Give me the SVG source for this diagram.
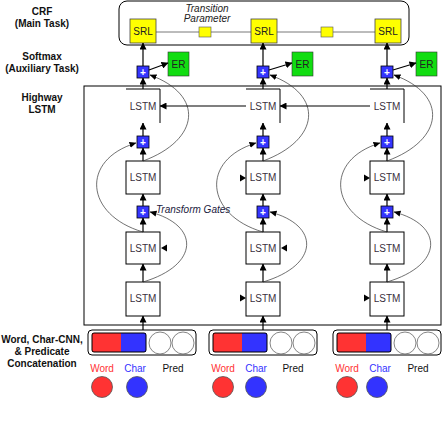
<svg xmlns="http://www.w3.org/2000/svg" width="444" height="430" viewBox="0 0 444 430">
<defs>
<marker id="ah" markerUnits="userSpaceOnUse" markerWidth="7" markerHeight="7" refX="6.5" refY="3.5" orient="auto"><path d="M0,0 L7,3.5 L0,7 z" fill="#000"/></marker>
<marker id="ahs" markerUnits="userSpaceOnUse" markerWidth="7" markerHeight="7" refX="6.5" refY="3.5" orient="auto"><path d="M0,0.5 L7,3.5 L0,6.5 z" fill="#000"/></marker>
<style>
text{font-family:"Liberation Sans",Arial,sans-serif}
.lbl{font-size:10px;font-weight:bold;text-anchor:middle;fill:#111}
.lstm{fill:#fff;stroke:#000;stroke-width:1}
.open{fill:none;stroke:#000;stroke-width:1}
.lt{font-size:10px;text-anchor:middle;fill:#3a3040}
.plus{fill:#3535ff;stroke:#000;stroke-width:0.8}
.pt{font-size:10px;font-weight:bold;fill:#fff;text-anchor:middle}
.srl{fill:#ffff00;stroke:#444;stroke-width:0.8}
.er{fill:#11dd11;stroke:#333;stroke-width:0.6}
.st{font-size:10px;text-anchor:middle;fill:#222}
.ar{stroke:#000;stroke-width:1.2;fill:none;marker-end:url(#ah)}
.cv{stroke:#333;stroke-width:0.7;fill:none;marker-end:url(#ahs)}
.tri{fill:#000}
.outer{fill:#fff;stroke:#000;stroke-width:1}
.wc{fill:none;stroke:#000;stroke-width:1}
.wcirc{fill:#fff;stroke:#666;stroke-width:0.8}
.rc{fill:#ff3333;stroke:#555;stroke-width:0.8}
.bc{fill:#3333ff;stroke:#555;stroke-width:0.8}
.small{font-size:10px;text-anchor:middle}
</style>
</defs>

<g id="labels">
<text class="lbl" x="42" y="15">CRF</text>
<text class="lbl" x="42" y="27">(Main Task)</text>
<text class="lbl" x="42" y="60">Softmax</text>
<text class="lbl" x="42" y="72">(Auxiliary Task)</text>
<text class="lbl" x="42" y="101">Highway</text>
<text class="lbl" x="42" y="113">LSTM</text>
<text class="lbl" x="42" y="343">Word, Char-CNN,</text>
<text class="lbl" x="42" y="355">&amp; Predicate</text>
<text class="lbl" x="42" y="367">Concatenation</text>
</g>

<g id="crf">
<rect x="119" y="1" width="290" height="44" rx="8" fill="none" stroke="#000" stroke-width="1"/>
<line x1="156" y1="32" x2="375" y2="32" stroke="#555" stroke-width="0.8"/>
<rect x="199" y="27" width="12" height="10" fill="#ffff00" stroke="#555" stroke-width="0.6"/>
<rect x="321" y="27" width="12" height="10" fill="#ffff00" stroke="#555" stroke-width="0.6"/>
<text x="207" y="12" font-size="10" font-style="italic" text-anchor="middle" fill="#222">Transition</text>
<text x="207" y="22" font-size="10" font-style="italic" text-anchor="middle" fill="#222">Parameter</text>
</g>

<g id="highway-box">
<rect x="84" y="86" width="357" height="239" fill="none" stroke="#000" stroke-width="1"/>
</g>

<g id="col1">
<rect class="srl" x="130" y="19" width="26" height="24"/><text class="st" x="143" y="35">SRL</text>
<rect class="plus" x="137" y="66" width="12" height="12"/><text class="pt" x="143" y="75.5">+</text>
<rect class="er" x="168" y="52" width="21" height="24"/><text class="st" x="178.5" y="68">ER</text>
<path class="open" d="M126,89 H160 V123"/><text class="lt" x="143" y="110">LSTM</text>
<rect class="plus" x="137" y="136" width="12" height="12"/><text class="pt" x="143" y="145.5">+</text>
<rect class="lstm" x="126" y="161" width="34" height="33"/><text class="lt" x="143" y="181">LSTM</text>
<rect class="plus" x="137" y="206" width="12" height="12"/><text class="pt" x="143" y="215.5">+</text>
<rect class="lstm" x="126" y="232" width="34" height="32"/><text class="lt" x="143" y="252">LSTM</text>
<rect class="lstm" x="126" y="282" width="34" height="34"/><text class="lt" x="143" y="302">LSTM</text>
</g>

<g id="col2">
<rect class="srl" x="251" y="19" width="26" height="24"/><text class="st" x="264" y="35">SRL</text>
<rect class="plus" x="257" y="66" width="12" height="12"/><text class="pt" x="263" y="75.5">+</text>
<rect class="er" x="292" y="52" width="21" height="24"/><text class="st" x="302.5" y="68">ER</text>
<path class="open" d="M246,89 H280 V123"/><text class="lt" x="263" y="110">LSTM</text>
<rect class="plus" x="257" y="136" width="12" height="12"/><text class="pt" x="263" y="145.5">+</text>
<rect class="lstm" x="246" y="161" width="34" height="33"/><text class="lt" x="263" y="181">LSTM</text>
<rect class="plus" x="257" y="206" width="12" height="12"/><text class="pt" x="263" y="215.5">+</text>
<rect class="lstm" x="246" y="232" width="34" height="32"/><text class="lt" x="263" y="252">LSTM</text>
<rect class="lstm" x="246" y="282" width="34" height="34"/><text class="lt" x="263" y="302">LSTM</text>
</g>

<g id="col3">
<rect class="srl" x="375" y="19" width="26" height="24"/><text class="st" x="388" y="35">SRL</text>
<rect class="plus" x="381" y="66" width="12" height="12"/><text class="pt" x="387" y="75.5">+</text>
<rect class="er" x="416" y="52" width="21" height="24"/><text class="st" x="426.5" y="68">ER</text>
<path class="open" d="M370,89 H404 V123"/><text class="lt" x="387" y="110">LSTM</text>
<rect class="plus" x="381" y="136" width="12" height="12"/><text class="pt" x="387" y="145.5">+</text>
<rect class="lstm" x="370" y="161" width="34" height="33"/><text class="lt" x="387" y="181">LSTM</text>
<rect class="plus" x="381" y="206" width="12" height="12"/><text class="pt" x="387" y="215.5">+</text>
<rect class="lstm" x="370" y="232" width="34" height="32"/><text class="lt" x="387" y="252">LSTM</text>
<rect class="lstm" x="370" y="282" width="34" height="34"/><text class="lt" x="387" y="302">LSTM</text>
</g>

<text x="156" y="213" font-size="10" font-style="italic" fill="#1a1a40">Transform Gates</text>

<g id="inputs">
<g id="in1">
<rect class="outer" x="88" y="330" width="108" height="25" rx="4"/>
<rect x="92" y="333" width="29" height="19" fill="#ff3333"/><rect x="121" y="333" width="25" height="19" fill="#3333ff"/>
<rect class="wc" x="92" y="333" width="54" height="19" rx="2"/>
<circle class="wcirc" cx="160" cy="343" r="11"/><circle class="wcirc" cx="183" cy="343" r="11"/>
<text class="small" x="102" y="372" fill="#ff3333">Word</text><text class="small" x="135" y="372" fill="#3333ff">Char</text><text class="small" x="173" y="372" fill="#111">Pred</text>
<circle class="rc" cx="102" cy="387" r="10.5"/><circle class="bc" cx="137" cy="387" r="10.5"/>
</g>
<g id="in2">
<rect class="outer" x="209" y="330" width="108" height="25" rx="4"/>
<rect x="213" y="333" width="29" height="19" fill="#ff3333"/><rect x="242" y="333" width="25" height="19" fill="#3333ff"/>
<rect class="wc" x="213" y="333" width="54" height="19" rx="2"/>
<circle class="wcirc" cx="281" cy="343" r="11"/><circle class="wcirc" cx="304" cy="343" r="11"/>
<text class="small" x="223" y="372" fill="#ff3333">Word</text><text class="small" x="256" y="372" fill="#3333ff">Char</text><text class="small" x="293" y="372" fill="#111">Pred</text>
<circle class="rc" cx="223" cy="387" r="10.5"/><circle class="bc" cx="256" cy="387" r="10.5"/>
</g>
<g id="in3">
<rect class="outer" x="333" y="330" width="108" height="25" rx="4"/>
<rect x="337" y="333" width="29" height="19" fill="#ff3333"/><rect x="366" y="333" width="25" height="19" fill="#3333ff"/>
<rect class="wc" x="337" y="333" width="54" height="19" rx="2"/>
<circle class="wcirc" cx="405" cy="343" r="11"/><circle class="wcirc" cx="428" cy="343" r="11"/>
<text class="small" x="347" y="372" fill="#ff3333">Word</text><text class="small" x="380" y="372" fill="#3333ff">Char</text><text class="small" x="418" y="372" fill="#111">Pred</text>
<circle class="rc" cx="347" cy="387" r="10.5"/><circle class="bc" cx="377" cy="387" r="10.5"/>
</g>
</g>

<g id="connectors">
<!-- column 1 -->
<line class="ar" x1="143" y1="66" x2="143" y2="43"/>
<line class="ar" x1="149" y1="70" x2="168" y2="63"/>
<line class="ar" x1="143" y1="89" x2="143" y2="78"/>
<line class="ar" x1="143" y1="136" x2="143" y2="123"/>
<line class="ar" x1="143" y1="161" x2="143" y2="148"/>
<line class="ar" x1="143" y1="206" x2="143" y2="194"/>
<line class="ar" x1="143" y1="232" x2="143" y2="218"/>
<line class="ar" x1="143" y1="282" x2="143" y2="264"/>
<line class="ar" x1="143" y1="330" x2="143" y2="316"/>
<path class="cv" d="M143,282 C200,265 200,225 150,212"/>
<path class="cv" d="M143,232 C85,215 80,160 136,143"/>
<path class="cv" d="M143,161 C200,140 205,95 150,75"/>
<!-- column 2 -->
<line class="ar" x1="263" y1="66" x2="263" y2="43"/>
<line class="ar" x1="269" y1="70" x2="292" y2="63"/>
<line class="ar" x1="263" y1="89" x2="263" y2="78"/>
<line class="ar" x1="263" y1="136" x2="263" y2="123"/>
<line class="ar" x1="263" y1="161" x2="263" y2="148"/>
<line class="ar" x1="263" y1="206" x2="263" y2="194"/>
<line class="ar" x1="263" y1="232" x2="263" y2="218"/>
<line class="ar" x1="263" y1="282" x2="263" y2="264"/>
<line class="ar" x1="263" y1="330" x2="263" y2="316"/>
<path class="cv" d="M263,282 C320,265 320,225 270,212"/>
<path class="cv" d="M263,232 C205,215 200,160 256,143"/>
<path class="cv" d="M263,161 C320,140 325,95 270,75"/>
<!-- column 3 -->
<line class="ar" x1="387" y1="66" x2="387" y2="43"/>
<line class="ar" x1="393" y1="70" x2="416" y2="63"/>
<line class="ar" x1="387" y1="89" x2="387" y2="78"/>
<line class="ar" x1="387" y1="136" x2="387" y2="123"/>
<line class="ar" x1="387" y1="161" x2="387" y2="148"/>
<line class="ar" x1="387" y1="206" x2="387" y2="194"/>
<line class="ar" x1="387" y1="232" x2="387" y2="218"/>
<line class="ar" x1="387" y1="282" x2="387" y2="264"/>
<line class="ar" x1="387" y1="330" x2="387" y2="316"/>
<path class="cv" d="M387,282 C444,265 444,225 394,212"/>
<path class="cv" d="M387,232 C329,215 324,160 380,143"/>
<path class="cv" d="M387,161 C444,140 449,95 394,75"/>
<!-- backward top layer -->
<line class="ar" x1="370" y1="106" x2="280" y2="106"/>
<line class="ar" x1="246" y1="106" x2="160" y2="106"/>
<!-- recurrent stubs -->
<polygon class="tri" points="161,248 167,244.5 167,251.5"/>
<polygon class="tri" points="281,248 287,244.5 287,251.5"/>
<polygon class="tri" points="246,298 240,294.5 240,301.5"/>
<polygon class="tri" points="370,298 364,294.5 364,301.5"/>
<polygon class="tri" points="246,178 240,174.5 240,181.5"/>
<polygon class="tri" points="370,178 364,174.5 364,181.5"/>
</g>
</svg>
